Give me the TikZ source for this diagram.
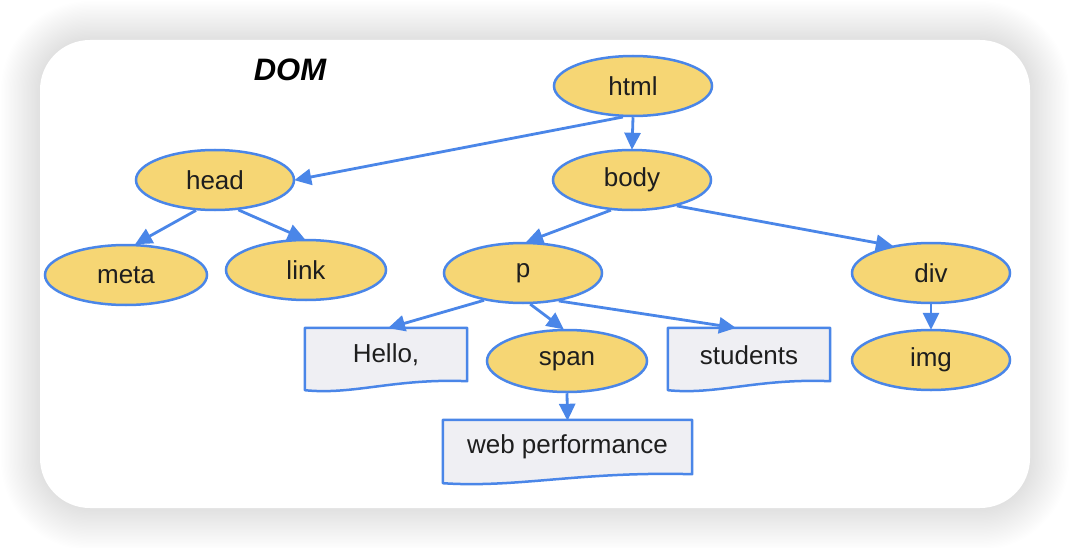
\documentclass[tikz,border=0pt]{standalone}
\usepackage{fontspec}
\setmainfont{Liberation Sans}
\usetikzlibrary{arrows.meta,shapes.geometric,calc}
\definecolor{nodefill}{HTML}{F6D674}
\definecolor{blueline}{HTML}{4A86E8}
\definecolor{docfill}{HTML}{EFEFF3}
\definecolor{txt}{HTML}{1E1E1E}
\tikzset{
  el/.style={ellipse, draw=blueline, fill=nodefill, line width=2.5pt, inner sep=0pt,
    minimum width=158pt, minimum height=60pt, font=\fontsize{26}{30}\selectfont, text=txt},
  docbox/.style={rectangle, inner sep=0pt, font=\fontsize{26}{30}\selectfont, text=txt},
  docline/.style={draw=blueline, fill=docfill, line width=2.5pt, line join=round},
  arr/.style={draw=blueline, line width=2.8pt, -{Triangle[length=17pt,width=16pt]}, shorten >=-1pt},
}
\newcommand{\docpath}[1]{%
  \path[docline] (#1.north west) -- (#1.north east) -- ([yshift=9pt]#1.south east)
    .. controls ($(#1.south east)!0.45!(#1.south west)+(0,12pt)$) and ($(#1.south east)!0.7!(#1.south west)+(0,-5pt)$) .. (#1.south west) -- cycle;}
\begin{document}
\begin{tikzpicture}[x=1pt,y=-1pt]
\useasboundingbox (0,0) rectangle (1070,548);
% shadow
\foreach \i in {1,...,30}{
  \fill[black,opacity=0.0032,rounded corners={50+\i*1.3}] ({40-\i*1.3},{40-\i*1.3}) rectangle ({1030+\i*1.3},{508+\i*1.4});
}
\fill[white,rounded corners=50] (40,40) rectangle (1030,508);
% title
\node (dom) at (290,70) {\fontsize{31}{36}\selectfont\bfseries\itshape DOM};
% ellipse nodes
\node[el] (html) at (633,86) {html};
\node[el] (head) at (215,180) {head};
\node[el] (body) at (632,180) {body};
\node[el, minimum width=162pt] (meta) at (126,275) {meta};
\node[el, minimum width=160pt] (link) at (306,270) {link};
\node[el] (p) at (523,273) {p};
\node[el] (div) at (931,273) {div};
\node[el, minimum width=160pt, minimum height=62pt] (span) at (567,361) {span};
\node[el] (img) at (931,360) {img};
% document boxes
\node[docbox, minimum width=162pt, minimum height=62pt] (hello) at (386,359) {};
\docpath{hello}
\node[docbox] (hellot) at (386,355) {Hello,};
\node[docbox, minimum width=162pt, minimum height=62pt] (students) at (749,359) {};
\docpath{students}
\node[docbox] (studentst) at (749,355) {students};
\node[docbox, minimum width=249pt, minimum height=63pt] (web) at (567.5,451.5) {};
\docpath{web}
\node[docbox] (webt) at (567.5,447) {web performance};
% connectors
\draw[arr] (html.252) -- (head.east);
\draw[arr] (html.south) -- (body.north);
\draw[arr] (head.238) -- ([xshift=10pt]meta.north);
\draw[arr] (head.308) -- ([xshift=-2pt]link.north);
\draw[arr] (body.235) -- ([xshift=4pt]p.north);
\draw[arr] (body.330) -- (div.145);
\draw[arr] (p.215) -- ([xshift=3pt]hello.north);
\draw[arr] (p.283) -- ([xshift=-4pt]span.north);
\draw[arr] (p.322) -- ([xshift=-14pt]students.north);
\draw[arr] (span.south) -- (web.north);
\draw[arr] (div.south) -- (img.north);
\end{tikzpicture}
\end{document}
